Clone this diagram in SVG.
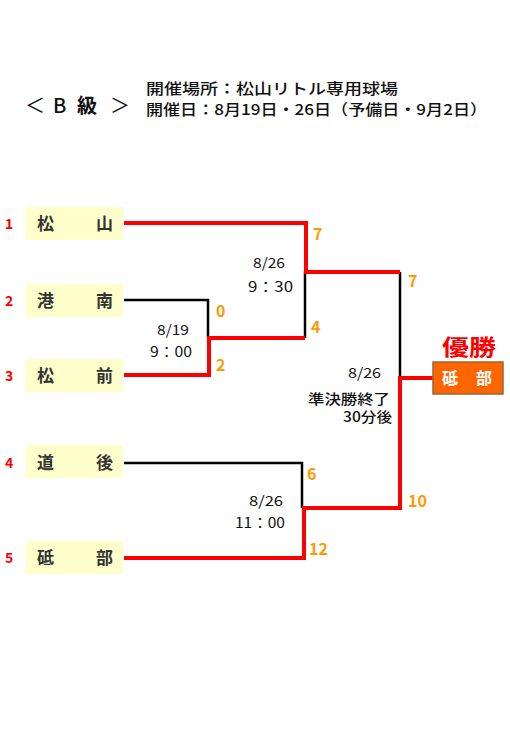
<svg xmlns="http://www.w3.org/2000/svg" width="510" height="737" viewBox="0 0 510 737">
<style>
text{font-family:"Noto Sans CJK JP","Noto Sans",sans-serif}
.team rect{fill:#FFFFCC}
.team .nm{font-size:17px;font-weight:bold;fill:#333333}
.team .seed{font-size:14px;font-weight:bold;fill:#FF0000}
.score{font-size:16px;font-weight:bold;fill:#FF9900}
.info{font-size:14px;fill:#111111}
.hd{font-size:15px;fill:#111111;font-weight:500}
.br{font-size:20px;fill:#111111}
.red{fill:none;stroke:#FF0000;stroke-width:4}
.blk{fill:none;stroke:#000000;stroke-width:2.5}
</style>
<rect width="510" height="737" fill="#FFFFFF"/>
<g id="header">
<text class="br" x="25" y="113">＜</text>
<text class="br" x="53" y="113" style="font-weight:500">B</text>
<text class="br" x="77" y="113" style="font-weight:bold">級</text>
<text class="br" x="110" y="113">＞</text>
<text class="hd" x="146" y="94" textLength="252" lengthAdjust="spacingAndGlyphs">開催場所：松山リトル専用球場</text>
<text class="hd" x="146" y="115" textLength="341" lengthAdjust="spacingAndGlyphs">開催日：8月19日・26日（予備日・9月2日）</text>
</g>
<g id="connectors">
<path class="blk" d="M124,300 H208 V338"/>
<path class="blk" d="M305,271 V338"/>
<path class="blk" d="M400,272 V378"/>
<path class="blk" d="M124,463 H302 V508"/>
<path class="red" d="M124,223 H306 V272 H400"/>
<path class="red" d="M124,375 H209 V338 H305"/>
<path class="red" d="M124,558 H304 V508 H400 V378 H434"/>
</g>
<g id="team1" class="team">
<rect x="26" y="207" width="97" height="33"/>
<text class="nm" x="37" y="230">松</text><text class="nm" x="96" y="230">山</text>
<text class="seed" x="5" y="229">1</text>
</g>
<g id="team2" class="team">
<rect x="26" y="284" width="97" height="33"/>
<text class="nm" x="37" y="307">港</text><text class="nm" x="96" y="307">南</text>
<text class="seed" x="5" y="306">2</text>
</g>
<g id="team3" class="team">
<rect x="26" y="359" width="97" height="33"/>
<text class="nm" x="37" y="382">松</text><text class="nm" x="96" y="382">前</text>
<text class="seed" x="5" y="381">3</text>
</g>
<g id="team4" class="team">
<rect x="26" y="445" width="97" height="33"/>
<text class="nm" x="37" y="469">道</text><text class="nm" x="96" y="469">後</text>
<text class="seed" x="5" y="468">4</text>
</g>
<g id="team5" class="team">
<rect x="26" y="541" width="97" height="33"/>
<text class="nm" x="37" y="564">砥</text><text class="nm" x="96" y="564">部</text>
<text class="seed" x="5" y="563">5</text>
</g>
<g id="scores">
<text class="score" x="313" y="240">7</text>
<text class="score" x="216" y="317">0</text>
<text class="score" x="311" y="333">4</text>
<text class="score" x="216" y="371">2</text>
<text class="score" x="408" y="287">7</text>
<text class="score" x="307" y="480">6</text>
<text class="score" x="309" y="555">12</text>
<text class="score" x="408" y="507">10</text>
</g>
<g id="match-info">
<text class="info" x="253" y="268" textLength="32" lengthAdjust="spacingAndGlyphs">8/26</text>
<text class="info" x="248" y="292" textLength="45" lengthAdjust="spacingAndGlyphs">9：30</text>
<text class="info" x="157" y="335" textLength="32" lengthAdjust="spacingAndGlyphs">8/19</text>
<text class="info" x="150" y="357" textLength="42" lengthAdjust="spacingAndGlyphs">9：00</text>
<text class="info" x="249" y="506" textLength="34" lengthAdjust="spacingAndGlyphs">8/26</text>
<text class="info" x="235" y="528" textLength="50" lengthAdjust="spacingAndGlyphs">11：00</text>
<text class="info" x="348" y="378" textLength="33" lengthAdjust="spacingAndGlyphs">8/26</text>
<text class="info" x="308" y="404" textLength="82" lengthAdjust="spacingAndGlyphs" style="font-weight:500">準決勝終了</text>
<text class="info" x="343" y="422" textLength="49" lengthAdjust="spacingAndGlyphs" style="font-weight:500">30分後</text>
</g>
<g id="champion">
<text x="442" y="355" style="font-size:22px;font-weight:bold" fill="#FF0000" textLength="54" lengthAdjust="spacingAndGlyphs">優勝</text>
<rect x="433" y="362" width="70" height="32" fill="#FF6600" stroke="#996633" stroke-width="1.5"/>
<text x="442" y="384" style="font-size:16px;font-weight:bold" fill="#FFFFFF">砥</text>
<text x="476" y="384" style="font-size:16px;font-weight:bold" fill="#FFFFFF">部</text>
</g>
</svg>
